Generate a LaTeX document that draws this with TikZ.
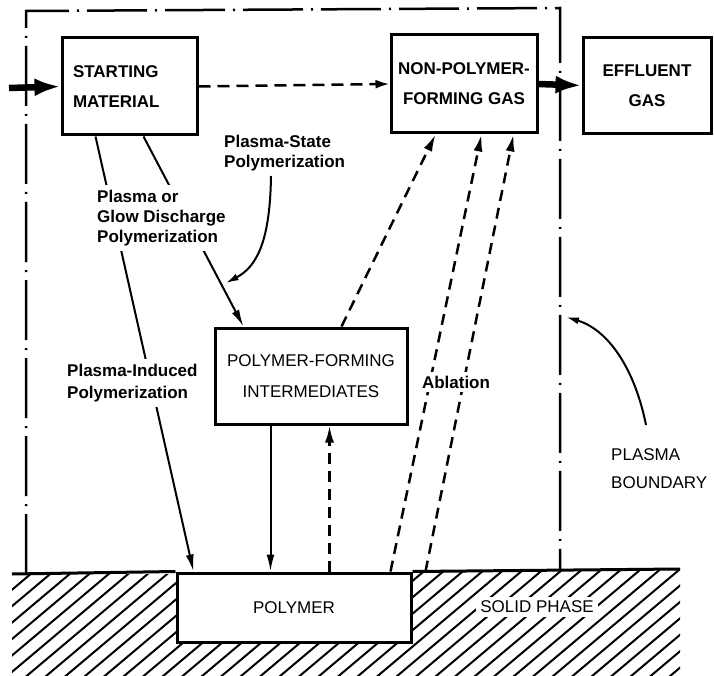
\documentclass[tikz,border=0pt]{standalone}
\usepackage{fontspec}
\setmainfont{Liberation Sans}
\usetikzlibrary{arrows.meta}
\begin{document}
\begin{tikzpicture}[x=1pt,y=-1pt,
  boxb/.style={draw,line width=3pt,rectangle,inner sep=1pt,align=center,
    font=\fontsize{17}{30}\selectfont\bfseries},
  boxr/.style={draw,line width=3pt,rectangle,inner sep=1pt,align=center,
    font=\fontsize{17}{31}\selectfont},
  lab/.style={inner sep=3pt,align=left,font=\fontsize{17}{20}\selectfont\bfseries},
  labr/.style={inner sep=3pt,align=left,font=\fontsize{17}{28}\selectfont},
  thin/.style={line width=2pt,-{Latex[length=17pt,width=8pt]}},
  dsh/.style={line width=2.5pt,dash pattern=on 11pt off 7pt,-{Latex[length=17pt,width=9pt]}},
  thick/.style={line width=6.5pt,-{Latex[length=26pt,width=18pt]}},
  bound/.style={line width=2.5pt,dash pattern=on 60pt off 8pt on 2pt off 8pt},
  ground/.style={line width=3pt},
  hatch/.style={line width=2pt},
  curv/.style={line width=2pt,-{Latex[length=13pt,width=7pt]}}
]
\useasboundingbox (0,0) rectangle (714,676);

% nodes (boxes)
\node[boxb,minimum width=135pt,minimum height=97pt,text width=113pt,align=left,inner xsep=11pt] (sm) at (129.5,86.5) {STARTING\\MATERIAL};
\node[boxb,minimum width=146pt,minimum height=98pt] (npfg) at (464,84) {NON-POLYMER-\\FORMING GAS};
\node[boxb,minimum width=128pt,minimum height=96pt] (eff) at (647,85.5) {EFFLUENT\\GAS};
\node[boxr,minimum width=192pt,minimum height=96pt] (pfi) at (311,376) {POLYMER-FORMING\\INTERMEDIATES};

% solid phase hatching
\coordinate (gl) at (12,574);
\coordinate (gr) at (680,569);
\begin{scope}
  \clip (12,574) -- (177,574) -- (177,642) -- (411,642) -- (411,571) -- (680,569) -- (680,676) -- (12,676) -- cycle;
  \foreach \i in {-8,...,36} \draw[hatch] (\i*19.5,682) -- ++(165,-139);
\end{scope}
\node[boxr,fill=white,minimum width=234pt,minimum height=69pt] (poly) at (294,607.5) {POLYMER};
\node[labr,fill=white,inner sep=4pt] (solid) at (537,607) {SOLID PHASE};
\draw[ground] (gl) -- (poly.north west);
\draw[ground] (poly.north east) -- (gr);

% plasma boundary
\coordinate (b1) at (26,574);
\coordinate (b2) at (26,11);
\coordinate (b3) at (560,8);
\coordinate (b4) at (560,569);
\draw[bound] (b1) -- (b2) -- (b3) -- (b4);

% connectors
\coordinate (in) at (9,88);
\draw[thick] (in) -- (sm.west);
\draw[thick] (npfg.east) -- (eff.west);
\draw[line width=2.5pt,dash pattern=on 12pt off 7pt,-{Latex[length=14pt,width=9pt]}] (sm.east) -- (npfg.west);

\draw[thin] ([xshift=35pt]sm.south west) -- ([xshift=18pt]poly.north west);
\draw[thin] ([xshift=83pt]sm.south west) -- coordinate[pos=0.772] (ps) ([xshift=30pt]pfi.north west);
\draw[thin] ([xshift=57pt]pfi.south west) -- ([xshift=95pt]poly.north west);
\draw[dsh] ([xshift=154pt]poly.north west) -- ([xshift=116pt]pfi.south west);
\draw[dsh] ([xshift=128pt]pfi.north west) -- ([xshift=46pt]npfg.south west);
\draw[dsh] ([xshift=215pt]poly.north west) -- ([xshift=92pt]npfg.south west);
\draw[dsh] ([xshift=250pt]poly.north west) -- ([xshift=124pt]npfg.south west);

% labels
\node[lab,fill=white,anchor=west,inner sep=5pt] (l1) at (92,218) {Plasma or\\Glow Discharge\\Polymerization};
\node[lab,anchor=west] (l2) at (221,153) {Plasma-State\\Polymerization};
\node[lab,fill=white,anchor=west,inner sep=5pt,font=\fontsize{17}{22}\selectfont\bfseries] (l3) at (62,383) {Plasma-Induced\\Polymerization};
\node[lab,fill=white,inner sep=4pt] (l4) at (456,382) {Ablation};
\node[labr,anchor=west] (l5) at (608,469) {PLASMA\\BOUNDARY};

% curved arrows
\draw[curv] (271,176) .. controls +(-1,68) and +(30,-16) .. ([xshift=5pt]ps);
\coordinate (pb) at (566,317);
\draw[curv] (646,425) .. controls +(-11,-55) and +(43,13) .. (pb);
\end{tikzpicture}
\end{document}
